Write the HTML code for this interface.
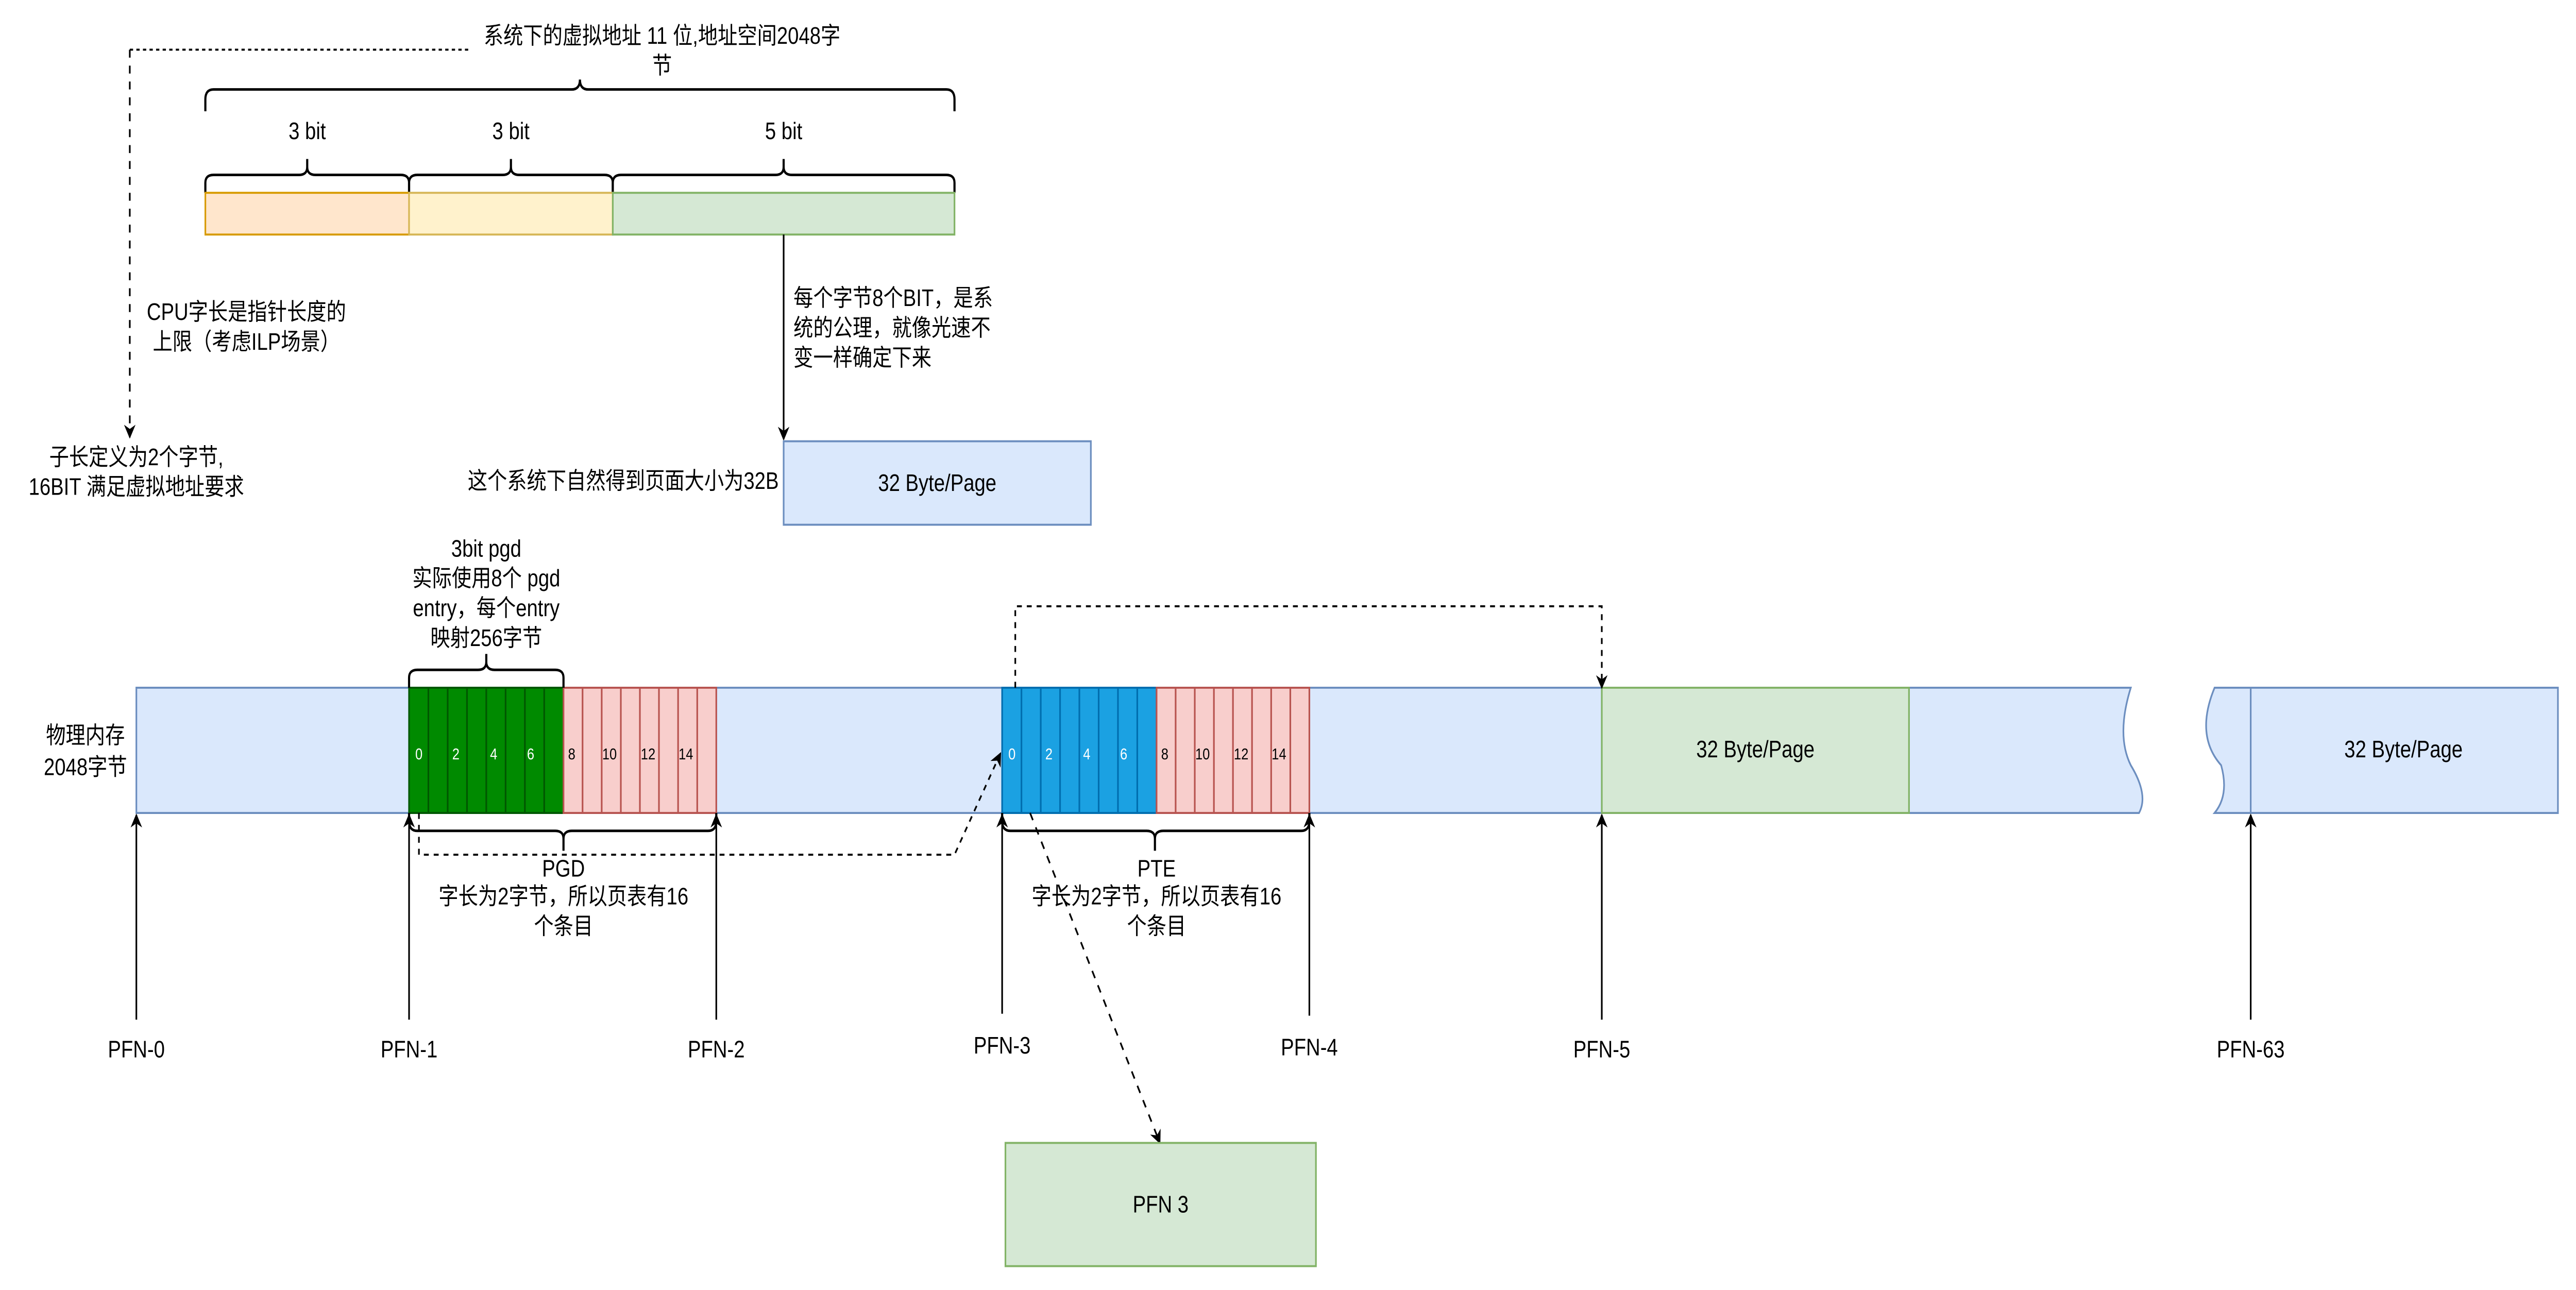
<!DOCTYPE html>
<html><head><meta charset="utf-8"><style>
html,body{margin:0;padding:0;background:#fff;width:100%;height:100%;overflow:hidden;}
svg{display:block;position:fixed;left:0;top:0;width:100vw;height:100vh;}
text{font-family:"Liberation Sans","Noto Sans CJK SC",sans-serif;font-size:12px;fill:#000;}
</style></head><body>
<svg viewBox="0 0 1568 649" preserveAspectRatio="none" xmlns="http://www.w3.org/2000/svg">
<defs>
<marker id="ar" viewBox="0 0 10 10" refX="9" refY="5" markerWidth="7" markerHeight="7" orient="auto-start-reverse" markerUnits="userSpaceOnUse">
<path d="M0,0 L10,5 L0,10 L3,5 Z" fill="#000"/>
</marker>
</defs>
<rect width="1568" height="649" fill="#fff"/>

<text x="403" y="22" text-anchor="middle">系统下的虚拟地址 11 位,地址空间2048字</text>
<text x="403" y="37" text-anchor="middle">节</text>
<path d="M285,25 L79,25" stroke="#000" stroke-width="1" stroke-dasharray="2,2" fill="none"/>
<path d="M79,25 L79,220" stroke="#000" stroke-width="1" stroke-dasharray="4,4" fill="none" marker-end="url(#ar)"/>

<path d="M125,56 L125,50 Q125,45 130,45 L348,45 Q353,45 353,40 Q353,45 358,45 L576,45 Q581,45 581,50 L581,56" stroke="#000" stroke-width="1.3" fill="none"/>

<text x="187" y="70" text-anchor="middle">3 bit</text>
<text x="311" y="70" text-anchor="middle">3 bit</text>
<text x="477" y="70" text-anchor="middle">5 bit</text>

<path d="M125,97 L125,92 Q125,88 130,88 L182,88 Q187,88 187,84 L187,80 M187,84 Q187,88 192,88 L244,88 Q249,88 249,92 L249,97" stroke="#000" stroke-width="1.3" fill="none"/>
<path d="M249,97 L249,92 Q249,88 254,88 L306,88 Q311,88 311,84 L311,80 M311,84 Q311,88 316,88 L368,88 Q373,88 373,92 L373,97" stroke="#000" stroke-width="1.3" fill="none"/>
<path d="M373,97 L373,92 Q373,88 378,88 L472,88 Q477,88 477,84 L477,80 M477,84 Q477,88 482,88 L576,88 Q581,88 581,92 L581,97" stroke="#000" stroke-width="1.3" fill="none"/>

<rect x="125" y="97" width="124" height="21" fill="#ffe6cc" stroke="#d79b00"/>
<rect x="249" y="97" width="124" height="21" fill="#fff2cc" stroke="#d6b656"/>
<rect x="373" y="97" width="208" height="21" fill="#d5e8d4" stroke="#82b366"/>

<path d="M477,118 L477,221" stroke="#000" fill="none" marker-end="url(#ar)"/>
<text x="483" y="154">每个字节8个BIT，是系</text>
<text x="483" y="169">统的公理，就像光速不</text>
<text x="483" y="184">变一样确定下来</text>

<text x="150" y="161" text-anchor="middle">CPU字长是指针长度的</text>
<text x="150" y="176" text-anchor="middle">上限（考虑ILP场景）</text>

<text x="83" y="234" text-anchor="middle">子长定义为2个字节,</text>
<text x="83" y="249" text-anchor="middle">16BIT 满足虚拟地址要求</text>

<rect x="477" y="222" width="187" height="42" fill="#dae8fc" stroke="#6c8ebf"/>
<text x="570.5" y="247" text-anchor="middle">32 Byte/Page</text>
<text x="474" y="246" text-anchor="end">这个系统下自然得到页面大小为32B</text>

<path d="M83,346 L1297,346 Q1288,370 1297,385 Q1308,400 1302,409 L83,409 Z" fill="#dae8fc" stroke="#6c8ebf"/>
<path d="M1348,346 L1557,346 L1557,409 L1348,409 Q1357,400 1352,385 Q1336,370 1348,346 Z" fill="#dae8fc" stroke="#6c8ebf"/>
<line x1="1370" y1="346" x2="1370" y2="409" stroke="#6c8ebf"/>
<text x="1463" y="381" text-anchor="middle">32 Byte/Page</text>

<text x="52" y="374" text-anchor="middle">物理内存</text>
<text x="52" y="390" text-anchor="middle">2048字节</text>

<rect x="975" y="346" width="187" height="63" fill="#d5e8d4" stroke="#82b366"/>
<text x="1068.5" y="381" text-anchor="middle">32 Byte/Page</text>

<g stroke-width="1">
<rect x="249" y="346" width="94" height="63" fill="#008a00" stroke="#005700"/>
<path d="M260.75,346V409M272.5,346V409M284.25,346V409M296,346V409M307.75,346V409M319.5,346V409M331.25,346V409" stroke="#005700"/>
<rect x="343" y="346" width="93" height="63" fill="#f8cecc" stroke="#b85450"/>
<path d="M354.6,346V409M366.25,346V409M377.9,346V409M389.5,346V409M401.1,346V409M412.75,346V409M424.4,346V409" stroke="#b85450"/>
<rect x="610" y="346" width="94" height="63" fill="#1ba1e2" stroke="#006eaf"/>
<path d="M621.75,346V409M633.5,346V409M645.25,346V409M657,346V409M668.75,346V409M680.5,346V409M692.25,346V409" stroke="#006eaf"/>
<rect x="704" y="346" width="93" height="63" fill="#f8cecc" stroke="#b85450"/>
<path d="M715.6,346V409M727.25,346V409M738.9,346V409M750.5,346V409M762.1,346V409M773.75,346V409M785.4,346V409" stroke="#b85450"/>
</g>
<g text-anchor="middle">
<text x="255" y="382" style="fill:#fff;font-size:8px">0</text>
<text x="277.5" y="382" style="fill:#fff;font-size:8px">2</text>
<text x="300.5" y="382" style="fill:#fff;font-size:8px">4</text>
<text x="323" y="382" style="fill:#fff;font-size:8px">6</text>
<text x="348" y="382" style="font-size:8px">8</text>
<text x="371" y="382" style="font-size:8px">10</text>
<text x="394.5" y="382" style="font-size:8px">12</text>
<text x="417.5" y="382" style="font-size:8px">14</text>
<text x="616" y="382" style="fill:#fff;font-size:8px">0</text>
<text x="638.5" y="382" style="fill:#fff;font-size:8px">2</text>
<text x="661.5" y="382" style="fill:#fff;font-size:8px">4</text>
<text x="684" y="382" style="fill:#fff;font-size:8px">6</text>
<text x="709" y="382" style="font-size:8px">8</text>
<text x="732" y="382" style="font-size:8px">10</text>
<text x="755.5" y="382" style="font-size:8px">12</text>
<text x="778.5" y="382" style="font-size:8px">14</text>
</g>

<path d="M249,346 L249,341 Q249,337 254,337 L291,337 Q296,337 296,333 L296,329 M296,333 Q296,337 301,337 L338,337 Q343,337 343,341 L343,346" stroke="#000" stroke-width="1.3" fill="none"/>
<text x="296" y="280" text-anchor="middle">3bit pgd</text>
<text x="296" y="295" text-anchor="middle">实际使用8个 pgd</text>
<text x="296" y="310" text-anchor="middle">entry，每个entry</text>
<text x="296" y="325" text-anchor="middle">映射256字节</text>

<path d="M249,409 L249,413 Q249,418 254,418 L338,418 Q343,418 343,422 L343,428 M343,422 Q343,418 348,418 L431,418 Q436,418 436,413 L436,409" stroke="#000" stroke-width="1.3" fill="none"/>
<path d="M610,409 L610,413 Q610,418 615,418 L698,418 Q703,418 703,422 L703,428 M703,422 Q703,418 708,418 L792,418 Q797,418 797,413 L797,409" stroke="#000" stroke-width="1.3" fill="none"/>
<text x="343" y="441" text-anchor="middle">PGD</text>
<text x="343" y="455" text-anchor="middle">字长为2字节，所以页表有16</text>
<text x="343" y="470" text-anchor="middle">个条目</text>
<text x="704" y="441" text-anchor="middle">PTE</text>
<text x="704" y="455" text-anchor="middle">字长为2字节，所以页表有16</text>
<text x="704" y="470" text-anchor="middle">个条目</text>

<g stroke="#000" fill="none">
<path d="M83,513 L83,410" marker-end="url(#ar)"/>
<path d="M249,513 L249,410" marker-end="url(#ar)"/>
<path d="M436,513 L436,410" marker-end="url(#ar)"/>
<path d="M610,510 L610,410" marker-end="url(#ar)"/>
<path d="M797,511 L797,410" marker-end="url(#ar)"/>
<path d="M975,513 L975,410" marker-end="url(#ar)"/>
<path d="M1370,513 L1370,410" marker-end="url(#ar)"/>
</g>
<text x="83" y="532" text-anchor="middle">PFN-0</text>
<text x="249" y="532" text-anchor="middle">PFN-1</text>
<text x="436" y="532" text-anchor="middle">PFN-2</text>
<text x="610" y="530" text-anchor="middle">PFN-3</text>
<text x="797" y="531" text-anchor="middle">PFN-4</text>
<text x="975" y="532" text-anchor="middle">PFN-5</text>
<text x="1370" y="532" text-anchor="middle">PFN-63</text>

<path d="M255,409 L255,430 L581,430 L609,379" stroke="#000" stroke-dasharray="3,3" fill="none" marker-end="url(#ar)"/>
<path d="M618,346 L618,305 L975,305 L975,346" stroke="#000" stroke-dasharray="3,3" fill="none" marker-end="url(#ar)"/>
<path d="M627,409 L706,575" stroke="#000" stroke-dasharray="4,4" fill="none" marker-end="url(#ar)"/>

<rect x="612" y="575" width="189" height="62" fill="#d5e8d4" stroke="#82b366"/>
<text x="706.5" y="610" text-anchor="middle">PFN 3</text>
</svg>
</body></html>
